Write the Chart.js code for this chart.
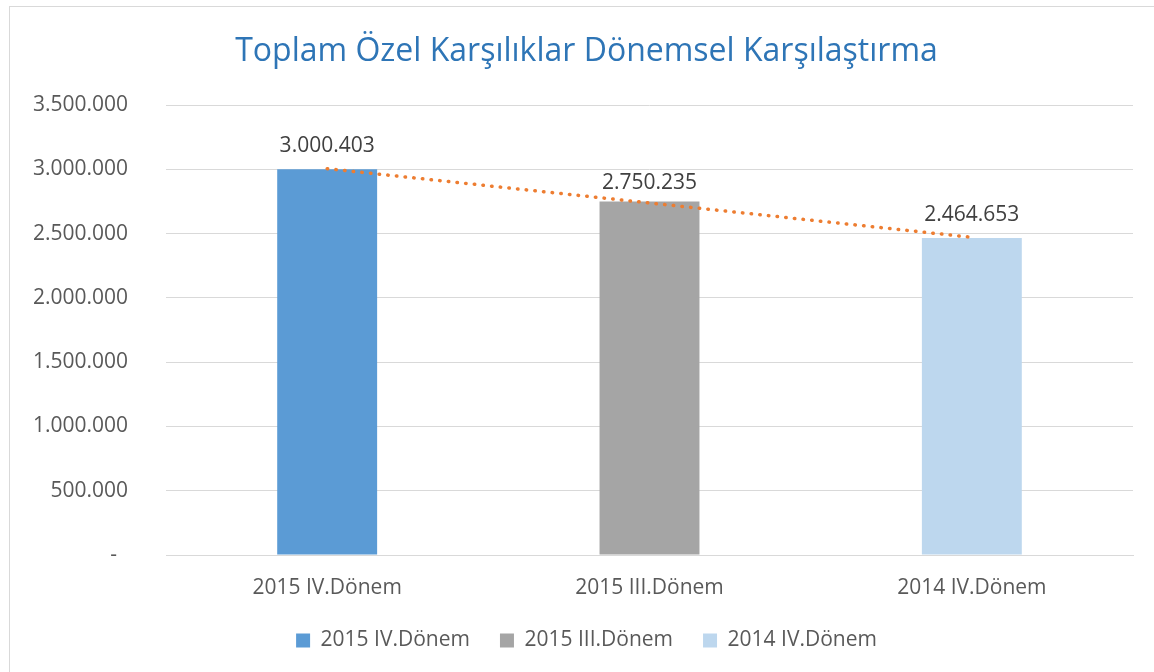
<!DOCTYPE html>
<html>
<head>
<meta charset="utf-8">
<script src="https://cdn.jsdelivr.net/npm/chart.js@4"></script>
<style>
    body { margin: 0; overflow: hidden; background: #fff; }
    #frame { position: absolute; left: 9px; top: 6px; width: 1200px; height: 700px; border: 1px solid #D9D9D9; }
    #chart { position: absolute; left: 0; top: 0; }
</style>
</head>
<body>
<div id="frame"></div>
<canvas id="chart" width="1154" height="672"></canvas>
<script>
"use strict"

// Veriler
const periods = ['2015 IV.Dönem', '2015 III.Dönem', '2014 IV.Dönem'];
const totals = [3000403, 2750235, 2464653];
const trendValues = [3005000, 2738000, 2471000];
const barColors = ['#5B9BD5', '#A5A5A5', '#BDD7EE'];
const yTicks = [0, 500000, 1000000, 1500000, 2000000, 2500000, 3000000, 3500000];

const fontFamily = "'Open Sans', sans-serif";
const textColor = '#595959';

// Sayıyı 3.000.403 şeklinde yaz
function formatNumber(value) {
    return String(value).replace(/\B(?=(\d{3})+(?!\d))/g, '.');
}

// Çubukların üstüne değerleri yaz
const barLabels = {
    id: 'barLabels',
    afterDatasetsDraw(chart) {
        const ctx = chart.ctx;
        const meta = chart.getDatasetMeta(0);
        const lift = [17, 12, 17];
        ctx.save();
        ctx.font = '21px ' + fontFamily;
        ctx.fillStyle = '#404040';
        ctx.textAlign = 'center';
        ctx.textBaseline = 'alphabetic';
        meta.data.forEach((bar, i) => {
            ctx.fillText(formatNumber(totals[i]), bar.x, bar.y - lift[i]);
        });
        ctx.restore();
    }
};

// Başlık ve göstergeyi biraz sağa kaydır (Excel'deki gibi)
const shiftBoxes = {
    id: 'shiftBoxes',
    afterLayout(chart) {
        [chart.titleBlock, chart.legend].forEach((box) => {
            box.left += 20;
            box.right += 20;
        });
    }
};

Chart.defaults.font.family = fontFamily;

new Chart(document.getElementById('chart'), {
    type: 'bar',
    data: {
        labels: periods,
        datasets: [{
            label: 'Toplam',
            data: totals,
            backgroundColor: barColors,
            barPercentage: 0.31,
            categoryPercentage: 1,
            order: 1
        }, {
            type: 'line',
            label: 'Trend',
            data: trendValues,
            borderColor: '#ED7D31',
            borderWidth: 3.5,
            borderDash: [0.5, 8.2],
            borderCapStyle: 'round',
            pointRadius: 0,
            fill: false,
            order: 0
        }]
    },
    options: {
        responsive: false,
        animation: false,
        layout: { padding: { left: 0, right: 21, top: 0, bottom: 11 } },
        plugins: {
            title: {
                display: true,
                text: 'Toplam Özel Karşılıklar Dönemsel Karşılaştırma',
                color: '#2E75B6',
                font: { size: 32, weight: 'normal' },
                padding: { top: 33, bottom: 33.6 }
            },
            legend: {
                position: 'bottom',
                onClick: null,
                labels: {
                    color: textColor,
                    font: { size: 21 },
                    boxWidth: 14,
                    boxHeight: 14,
                    padding: 30,
                    generateLabels: () => periods.map((name, i) => ({
                        text: name,
                        fillStyle: barColors[i],
                        strokeStyle: barColors[i],
                        lineWidth: 0,
                        hidden: false,
                        fontColor: textColor,
                        index: i,
                        datasetIndex: 0
                    }))
                }
            },
            tooltip: { enabled: false }
        },
        scales: {
            x: {
                afterFit: (scale) => { scale.height = 45; },
                grid: { display: false, drawTicks: false },
                border: { color: '#D9D9D9', width: 1 },
                ticks: { color: textColor, font: { size: 21 }, padding: 20 }
            },
            y: {
                min: 0,
                max: 3500000,
                afterBuildTicks: (scale) => {
                    scale.ticks = yTicks.map((v) => ({ value: v }));
                },
                afterFit: (scale) => { scale.width = 166; },
                grid: { color: '#D9D9D9', drawTicks: false },
                border: { display: false },
                ticks: {
                    color: textColor,
                    font: { size: 21 },
                    padding: 38,
                    callback: (value) => value === 0 ? '-  ' : formatNumber(value)
                }
            }
        }
    },
    plugins: [barLabels, shiftBoxes]
});
</script>
</body>
</html>
